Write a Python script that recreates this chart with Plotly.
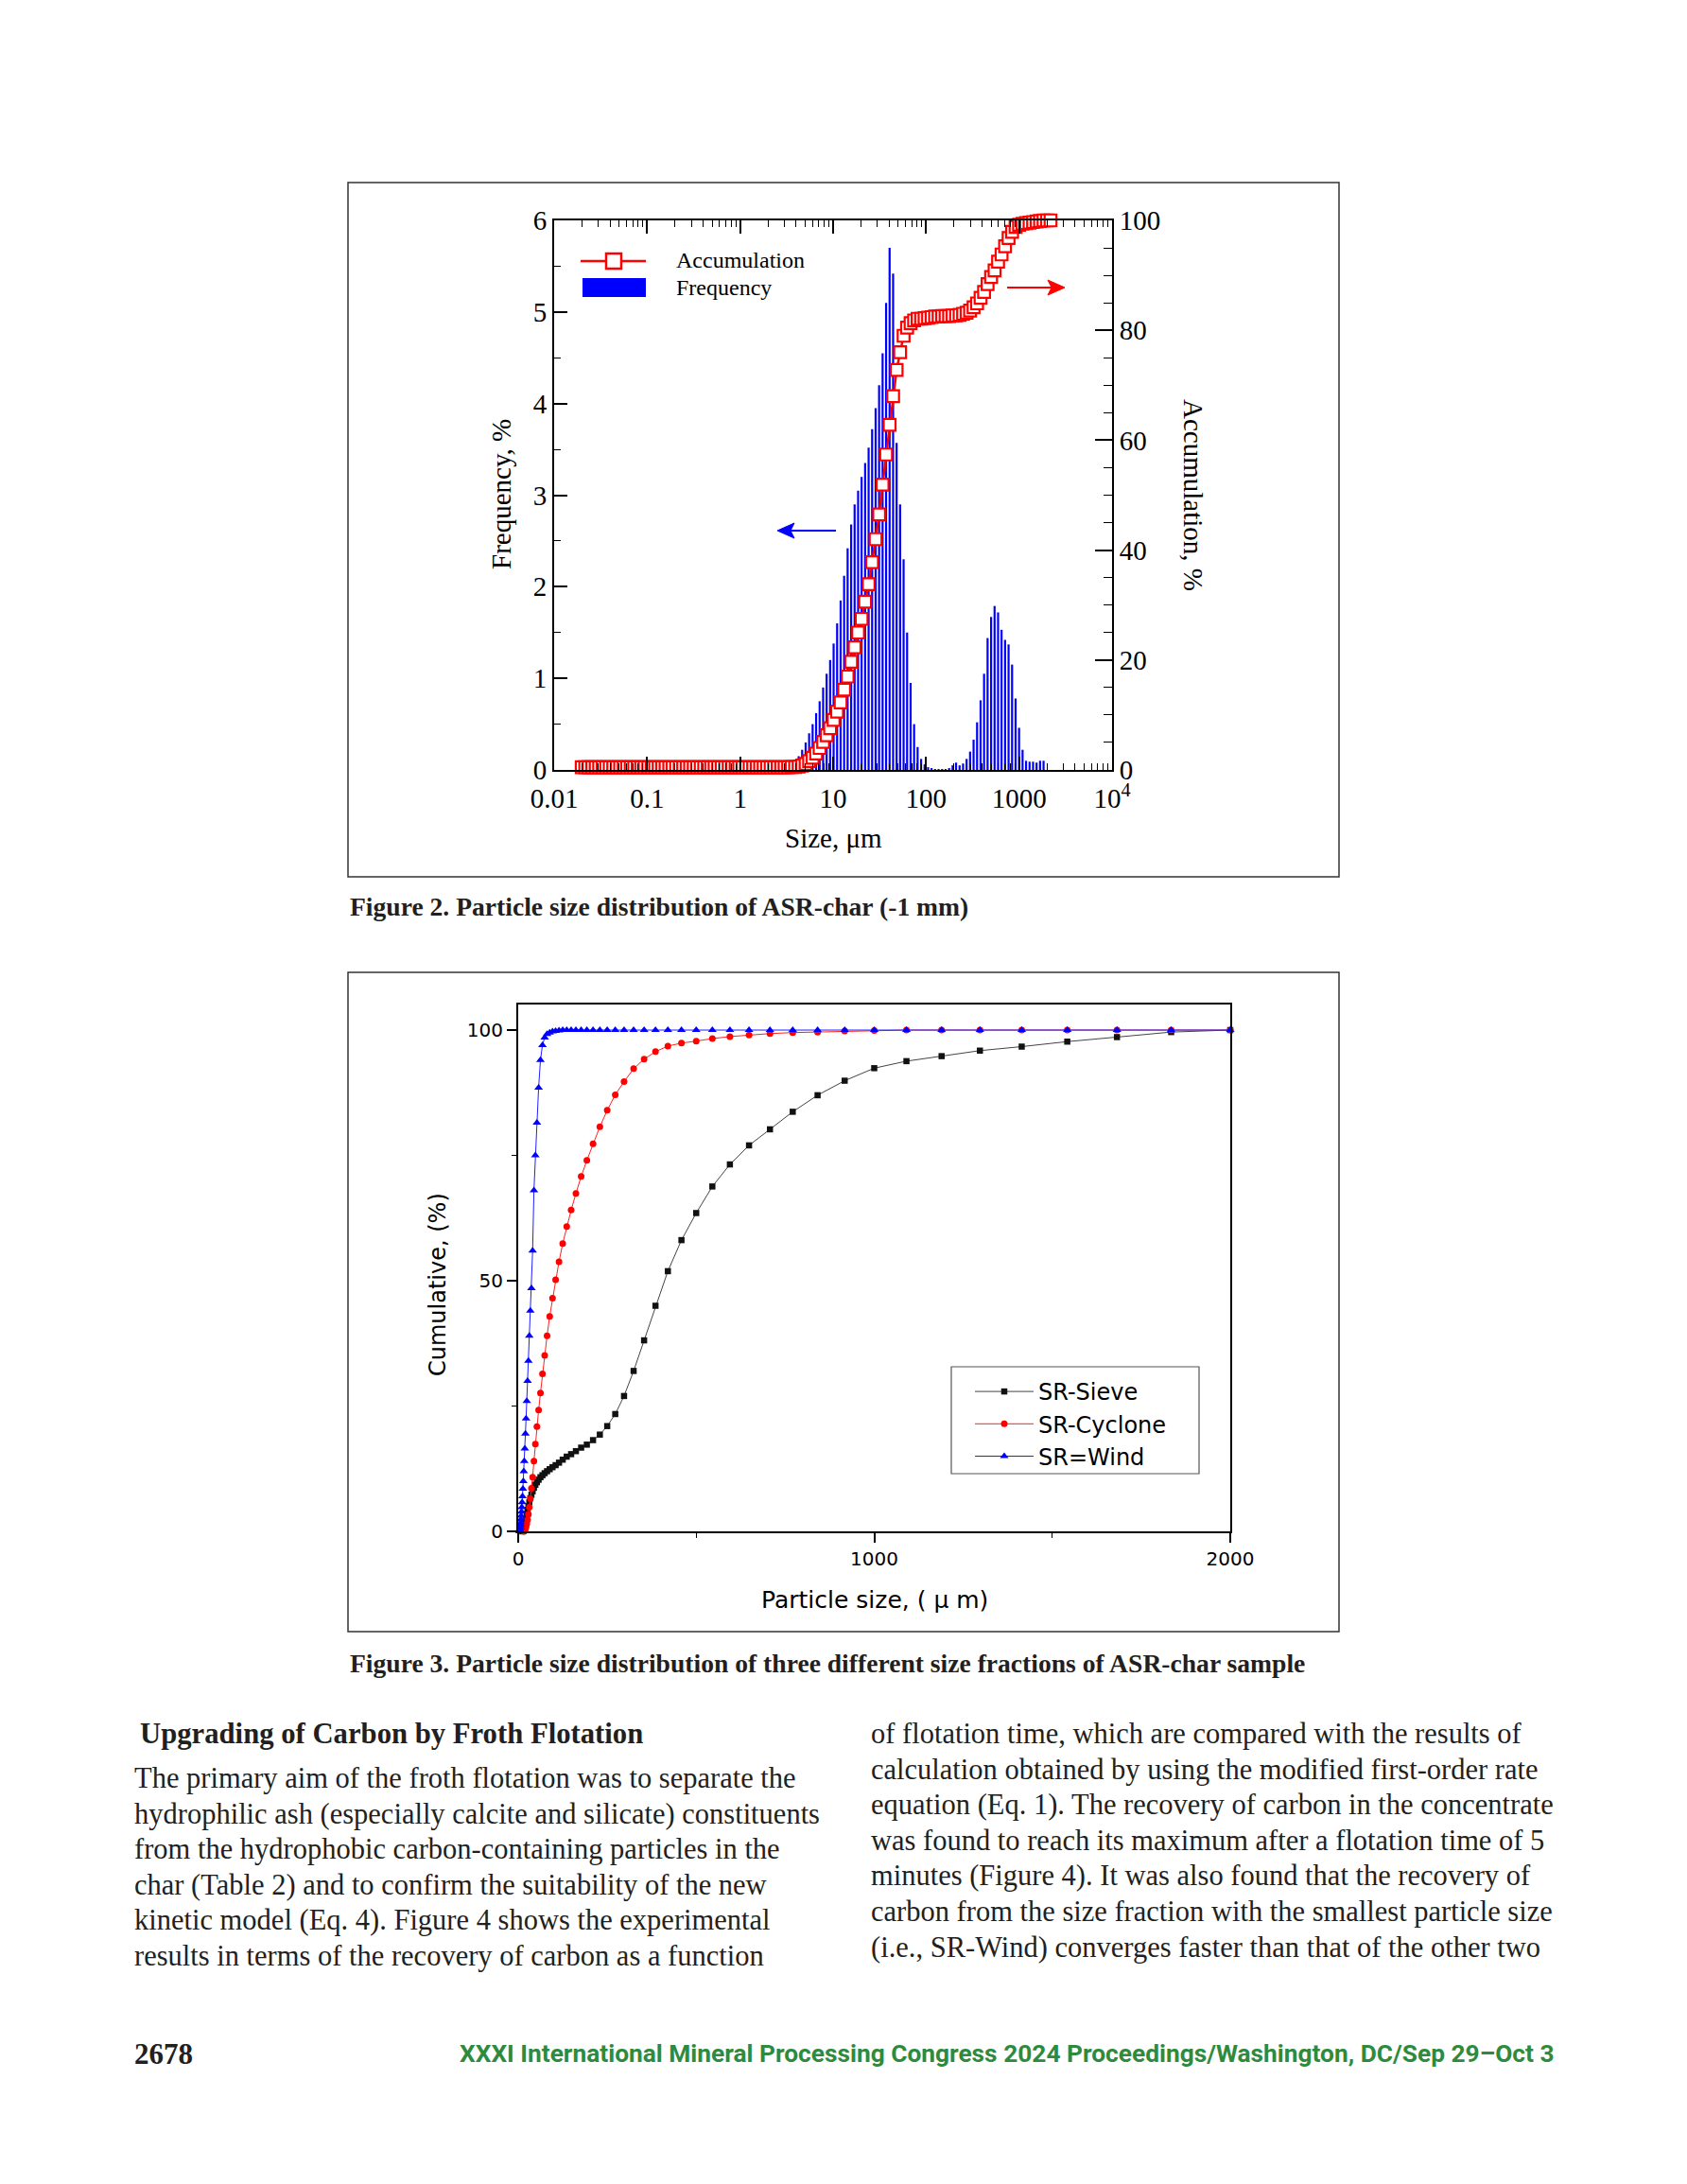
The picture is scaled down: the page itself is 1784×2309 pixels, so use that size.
import plotly.graph_objects as go

W, H = 1784, 2309

# ---------------- Figure 2 data (laser diffraction channels, um) ----------------
sizes_um = [
    0.0198, 0.0216, 0.0235, 0.0257, 0.0280, 0.0305,
    0.0333, 0.0363, 0.0396, 0.0432, 0.0471, 0.0513, 0.0560, 0.0610,
    0.0666, 0.0726, 0.0791, 0.0863, 0.0941, 0.103, 0.112, 0.122,
    0.133, 0.145, 0.158, 0.173, 0.188, 0.205, 0.224, 0.244,
    0.266, 0.290, 0.317, 0.345, 0.377, 0.411, 0.448, 0.488,
    0.532, 0.581, 0.633, 0.691, 0.753, 0.821, 0.896, 0.977,
    1.065, 1.161, 1.266, 1.381, 1.506, 1.642, 1.791, 1.953,
    2.130, 2.323, 2.533, 2.762, 3.012, 3.285, 3.582, 3.906,
    4.260, 4.645, 5.066, 5.524, 6.024, 6.570, 7.164, 7.813,
    8.520, 9.291, 10.13, 11.05, 12.05, 13.14, 14.33, 15.63,
    17.04, 18.58, 20.26, 22.10, 24.10, 26.28, 28.66, 31.25,
    34.08, 37.16, 40.53, 44.19, 48.19, 52.56, 57.31, 62.50,
    68.16, 74.33, 81.05, 88.39, 96.39, 105.1, 114.6, 125.0,
    136.3, 148.7, 162.1, 176.8, 192.8, 210.2, 229.3, 250.0,
    272.6, 297.3, 324.2, 353.6, 385.6, 420.4, 458.5, 500.0,
    545.3, 594.6, 648.4, 707.1, 771.1, 840.9, 917.0, 1000.0,
    1090.5, 1189.2, 1296.8, 1414.2, 1542.2, 1681.8, 1834.0, 2000.0,
    2181.0,
]

frequency_pct = [
    0, 0, 0, 0, 0, 0,
    0, 0, 0, 0, 0, 0, 0, 0,
    0, 0, 0, 0, 0, 0, 0, 0,
    0, 0, 0, 0, 0, 0, 0, 0,
    0, 0, 0, 0, 0, 0, 0, 0,
    0, 0, 0, 0, 0, 0, 0, 0,
    0, 0, 0, 0, 0, 0, 0, 0,
    0, 0.01, 0.02, 0.03, 0.04, 0.06, 0.08, 0.11,
    0.15, 0.22, 0.30, 0.40, 0.50, 0.62, 0.75, 0.90,
    1.05, 1.20, 1.38, 1.60, 1.85, 2.12, 2.42, 2.68,
    2.90, 3.05, 3.20, 3.35, 3.52, 3.72, 3.95, 4.20,
    4.55, 5.10, 5.70, 5.42, 3.57, 2.90, 2.30, 1.50,
    0.95, 0.50, 0.25, 0.12, 0.06, 0.03, 0.02, 0.01,
    0.01, 0.01, 0.01, 0.02, 0.05, 0.08, 0.05, 0.07,
    0.12, 0.20, 0.33, 0.52, 0.76, 1.05, 1.44, 1.67,
    1.79, 1.72, 1.53, 1.42, 1.37, 1.15, 0.78, 0.46,
    0.22, 0.10, 0.09, 0.09, 0.08, 0.10, 0.10, 0,
    0,
]

accumulation_pct = [
    0.5, 0.5, 0.5, 0.5, 0.5, 0.5,
    0.5, 0.5, 0.5, 0.5, 0.5, 0.5, 0.5, 0.5,
    0.5, 0.5, 0.5, 0.5, 0.5, 0.5, 0.5, 0.5,
    0.5, 0.5, 0.5, 0.5, 0.5, 0.5, 0.5, 0.5,
    0.5, 0.5, 0.5, 0.5, 0.5, 0.5, 0.5, 0.5,
    0.5, 0.5, 0.5, 0.5, 0.5, 0.5, 0.5, 0.5,
    0.5, 0.5, 0.5, 0.5, 0.5, 0.5, 0.5, 0.5,
    0.5, 0.5, 0.5, 0.5, 0.5, 0.5, 0.55, 0.55,
    0.6, 0.8, 1.1, 1.6, 2.2, 3.0, 4.0, 5.1,
    6.3, 7.6, 9.1, 10.6, 12.3, 14.6, 17.0, 19.7,
    22.3, 25.0, 27.5, 30.6, 33.8, 37.8, 42.0, 46.5,
    51.9, 57.4, 62.8, 68.0, 72.8, 76.0, 79.0, 80.5,
    81.3, 81.8, 82.1, 82.1, 82.2, 82.3, 82.4, 82.5,
    82.5, 82.6, 82.6, 82.6, 82.7, 82.7, 82.8, 83.0,
    83.2, 83.6, 84.2, 84.9, 85.9, 87.0, 88.4, 89.7,
    90.9, 92.5, 93.8, 95.3, 96.8, 97.9, 98.8, 99.2,
    99.4, 99.5, 99.6, 99.7, 99.8, 99.9, 100.0, 100.0,
    100.0,
]

# ---------------- Figure 3 data ----------------
sieve_size = [
    12.05, 13.14, 14.33, 15.63, 17.04, 18.58, 20.26, 22.10, 24.10, 26.28, 28.66, 31.25,
    34.08, 37.16, 40.53, 44.19, 48.19, 52.56, 57.31, 62.50, 68.16, 74.33, 81.05, 88.39,
    96.39, 105.1, 114.6, 125.0, 136.3, 148.7, 162.1, 176.8, 192.8, 210.2, 229.3, 250.0,
    272.6, 297.3, 324.2, 353.6, 385.6, 420.4, 458.5, 500.0, 545.3, 594.6, 648.4, 707.1,
    771.1, 840.9, 917.0, 1000.0, 1090.5, 1189.2, 1296.8, 1414.2, 1542.2, 1681.8, 1834.0, 2000.0,
]
sieve_cum = [
    0.0, 0.05, 0.1, 0.3, 0.6, 1.1, 1.8, 2.6, 3.5, 4.3, 5.0, 5.8,
    6.6, 7.3, 8.0, 8.7, 9.3, 9.8, 10.3, 10.8, 11.2, 11.6, 12.0, 12.4,
    12.8, 13.2, 13.7, 14.3, 14.9, 15.4, 16.0, 16.7, 17.3, 18.2, 19.3, 21.0,
    23.4, 27.0, 32.0, 38.1, 45.0, 51.9, 58.1, 63.5, 68.8, 73.2, 77.0, 80.2,
    83.7, 87.0, 89.9, 92.4, 93.8, 94.8, 95.9, 96.7, 97.7, 98.6, 99.6, 100.0,
]

cyclone_size = [
    15.63, 17.04, 18.58, 20.26, 22.10, 24.10, 26.28, 28.66, 31.25,
    34.08, 37.16, 40.53, 44.19, 48.19, 52.56, 57.31, 62.50, 68.16, 74.33, 81.05, 88.39,
    96.39, 105.1, 114.6, 125.0, 136.3, 148.7, 162.1, 176.8, 192.8, 210.2, 229.3, 250.0,
    272.6, 297.3, 324.2, 353.6, 385.6, 420.4, 458.5, 500.0, 545.3, 594.6, 648.4, 707.1,
    771.1, 840.9, 917.0, 1000.0, 1090.5, 1189.2, 1296.8, 1414.2, 1542.2, 1681.8, 1834.0, 2000.0,
]
cyclone_cum = [
    0.0, 0.1, 0.2, 0.5, 0.9, 1.5, 2.3, 3.4, 4.8,
    6.5, 8.6, 10.8, 14.0, 17.4, 20.9, 24.2, 27.6, 31.4, 35.1, 39.0, 42.9,
    46.5, 50.2, 53.8, 57.4, 60.8, 64.1, 67.4, 70.8, 74.0, 77.3, 80.7, 84.0,
    87.1, 89.7, 92.3, 94.2, 95.7, 96.8, 97.4, 97.8, 98.3, 98.7, 99.0, 99.3,
    99.5, 99.6, 99.8, 99.9, 100.0, 100.0, 100.0, 100.0, 100.0, 100.0, 100.0, 100.0,
]

wind_size = [
    4.260, 4.645, 5.066, 5.524, 6.024, 6.570, 7.164, 7.813,
    8.520, 9.291, 10.13, 11.05, 12.05, 13.14, 14.33, 15.63, 17.04, 18.58, 20.26, 22.10,
    24.10, 26.28, 28.66, 31.25, 34.08, 37.16, 40.53, 44.19, 48.19, 52.56, 57.31, 62.50,
    68.16, 74.33, 81.05, 88.39, 96.39, 105.1, 114.6, 125.0, 136.3, 148.7, 162.1, 176.8,
    192.8, 210.2, 229.3, 250.0, 272.6, 297.3, 324.2, 353.6, 385.6, 420.4, 458.5, 500.0,
    545.3, 594.6, 648.4, 707.1, 771.1, 840.9, 917.0, 1000.0, 1090.5, 1189.2, 1296.8, 1414.2,
    1542.2, 1681.8, 1834.0, 2000.0,
]
wind_cum = [
    0.0, 0.1, 0.3, 0.6, 0.9, 1.3, 1.8, 2.4,
    3.1, 3.9, 4.8, 5.8, 7.0, 8.5, 10.0, 12.0, 14.0, 16.5, 19.5, 22.5,
    26.0, 30.0, 34.0, 39.0, 44.0, 48.5, 56.0, 68.0, 75.0, 81.5, 88.5, 94.0,
    97.0, 98.5, 99.2, 99.5, 99.7, 99.8, 99.9, 100.0, 100.0, 100.0, 100.0, 100.0,
    100.0, 100.0, 100.0, 100.0, 100.0, 100.0, 100.0, 100.0, 100.0, 100.0, 100.0, 100.0,
    100.0, 100.0, 100.0, 100.0, 100.0, 100.0, 100.0, 100.0, 100.0, 100.0, 100.0, 100.0,
    100.0, 100.0, 100.0, 100.0,
]

series_names = ["SR-Sieve", "SR-Cyclone", "SR=Wind"]

# ---------------- page text ----------------
caption_fig2 = "Figure 2. Particle size distribution of ASR-char (-1 mm)"
caption_fig3 = "Figure 3. Particle size distribution of three different size fractions of ASR-char sample"
heading = "Upgrading of Carbon by Froth Flotation"
left_lines = [
    "The primary aim of the froth flotation was to separate the",
    "hydrophilic ash (especially calcite and silicate) constituents",
    "from the hydrophobic carbon-containing particles in the",
    "char (Table 2) and to confirm the suitability of the new",
    "kinetic model (Eq. 4). Figure 4 shows the experimental",
    "results in terms of the recovery of carbon as a function",
]
right_lines = [
    "of flotation time, which are compared with the results of",
    "calculation obtained by using the modified first-order rate",
    "equation (Eq. 1). The recovery of carbon in the concentrate",
    "was found to reach its maximum after a flotation time of 5",
    "minutes (Figure 4). It was also found that the recovery of",
    "carbon from the size fraction with the smallest particle size",
    "(i.e., SR-Wind) converges faster than that of the other two",
]
page_number = "2678"
footer = "XXXI International Mineral Processing Congress 2024 Proceedings/Washington, DC/Sep 29\u2013Oct 3"


def px(x):
    return x / W


def py(y):
    return 1 - y / H


SERIF = "Liberation Serif, Times New Roman, serif"
SANS = "DejaVu Sans, sans-serif"
INK = "#231f20"

fig = go.Figure()

# Frequency bars as vertical error-bar strokes (log x axis)
fig.add_trace(go.Scatter(
    x=sizes_um, y=frequency_pct, mode="markers",
    marker=dict(size=1, opacity=0),
    error_y=dict(type="data", symmetric=False,
                 array=[0] * len(frequency_pct), arrayminus=frequency_pct,
                 width=0, thickness=2.2, color="#0000ff"),
    xaxis="x", yaxis="y", showlegend=False, hoverinfo="skip",
))
# Accumulation
fig.add_trace(go.Scatter(
    x=sizes_um, y=accumulation_pct, mode="lines+markers",
    line=dict(color="#ff0000", width=2.5),
    marker=dict(symbol="square", size=12.5, color="white",
                line=dict(color="#ff0000", width=2.2)),
    xaxis="x", yaxis="y2", showlegend=False, cliponaxis=False,
))

# Figure 3 series
styles = [
    dict(color="#111111", line="#444444", symbol="square", size=6.5),
    dict(color="#ff0000", line="#ff2020", symbol="circle", size=7),
    dict(color="#0000ff", line="#2020ff", symbol="triangle-up", size=8),
]
for name, xs, ys, st in zip(series_names,
                            [sieve_size, cyclone_size, wind_size],
                            [sieve_cum, cyclone_cum, wind_cum], styles):
    fig.add_trace(go.Scatter(
        x=xs, y=ys, name=name, mode="lines+markers",
        line=dict(color=st["line"], width=1),
        marker=dict(symbol=st["symbol"], size=st["size"], color=st["color"]),
        xaxis="x2", yaxis="y3", cliponaxis=False,
    ))

log_minor = [m * 10 ** e for e in range(-2, 4) for m in range(2, 10)]

fig.update_layout(
    width=W, height=H, autosize=False,
    margin=dict(l=0, r=0, t=0, b=0, pad=0, autoexpand=False),
    paper_bgcolor="white", plot_bgcolor="white",
    xaxis=dict(
        type="log", domain=[px(586), px(1176)], range=[-2, 4], anchor="y",
        showline=True, linecolor="black", linewidth=2, mirror="ticks",
        ticks="inside", ticklen=14, tickwidth=1.5, tickcolor="black",
        tickvals=[0.01, 0.1, 1, 10, 100, 1000, 10000],
        ticktext=["0.01", "0.1", "1", "10", "100", "1000", "10<sup>4</sup>"],
        tickfont=dict(family=SERIF, size=29, color="black"),
        ticklabelstandoff=3,
        minor=dict(ticks="inside", ticklen=7, tickwidth=1.2, tickcolor="black",
                   tickvals=log_minor, showgrid=False),
        showgrid=False, zeroline=False, automargin=False,
    ),
    yaxis=dict(
        domain=[py(814), py(233)], range=[0, 6], anchor="x",
        showline=True, linecolor="black", linewidth=2, mirror=False,
        ticks="inside", ticklen=14, tickwidth=1.5, tickcolor="black",
        tickvals=[0, 1, 2, 3, 4, 5, 6],
        tickfont=dict(family=SERIF, size=29, color="black"),
        minor=dict(ticks="inside", ticklen=7, tickwidth=1.2, tickcolor="black",
                   tickvals=[0.5, 1.5, 2.5, 3.5, 4.5, 5.5], showgrid=False),
        showgrid=False, zeroline=False, automargin=False,
    ),
    yaxis2=dict(
        overlaying="y", side="right", range=[0, 100], anchor="x",
        showline=True, linecolor="black", linewidth=2,
        ticks="inside", ticklen=18, tickwidth=1.5, tickcolor="black",
        tickvals=[0, 20, 40, 60, 80, 100],
        tickfont=dict(family=SERIF, size=29, color="black"),
        minor=dict(ticks="inside", ticklen=9, tickwidth=1.2, tickcolor="black",
                   dtick=5, showgrid=False),
        showgrid=False, zeroline=False, automargin=False,
    ),
    xaxis2=dict(
        domain=[px(548), px(1301)], range=[0, 2000], anchor="y3",
        showline=True, linecolor="black", linewidth=2, mirror=True,
        ticks="outside", ticklen=10, tickwidth=1.5, tickcolor="black",
        tickvals=[0, 1000, 2000],
        tickfont=dict(family=SANS, size=20, color="black"),
        minor=dict(ticks="outside", ticklen=5, tickwidth=1.2, tickcolor="black",
                   tickvals=[500, 1500], showgrid=False),
        showgrid=False, zeroline=False, automargin=False,
    ),
    yaxis3=dict(
        domain=[py(1619), py(1062)], range=[0, 105.1], anchor="x2",
        showline=True, linecolor="black", linewidth=2, mirror=True,
        ticks="outside", ticklen=10, tickwidth=1.5, tickcolor="black",
        tickvals=[0, 50, 100],
        tickfont=dict(family=SANS, size=20, color="black"),
        minor=dict(ticks="outside", ticklen=5, tickwidth=1.2, tickcolor="black",
                   tickvals=[25, 75], showgrid=False),
        showgrid=False, zeroline=False, automargin=False,
    ),
    showlegend=True,
    legend=dict(
        x=px(1026), y=py(1449), xanchor="left", yanchor="top",
        borderwidth=0, bgcolor="rgba(0,0,0,0)",
        font=dict(family=SANS, size=24, color="black"),
        itemwidth=62, traceorder="normal",
    ),
)

shapes = [
    # figure frames
    dict(type="rect", xref="paper", yref="paper", x0=px(368), x1=px(1416), y0=py(927), y1=py(193),
         line=dict(color="#333333", width=1.5)),
    dict(type="rect", xref="paper", yref="paper", x0=px(368), x1=px(1416), y0=py(1725), y1=py(1028),
         line=dict(color="#333333", width=1.5)),
    # figure 3 legend frame
    dict(type="rect", xref="paper", yref="paper", x0=px(1006), x1=px(1268), y0=py(1558), y1=py(1445),
         fillcolor="white", line=dict(color="#555555", width=1.2), layer="above"),
    # figure 2 legend keys
    dict(type="line", xref="paper", yref="paper", x0=px(614), x1=px(683), y0=py(276), y1=py(276),
         line=dict(color="#ff0000", width=2.5)),
    dict(type="rect", xref="paper", yref="paper", x0=px(641), x1=px(657), y0=py(284), y1=py(268),
         fillcolor="white", line=dict(color="#ff0000", width=2.5)),
    dict(type="rect", xref="paper", yref="paper", x0=px(616), x1=px(683), y0=py(314), y1=py(294),
         fillcolor="#0000ff", line=dict(width=0)),
    # direction arrows (which axis each series belongs to)
    dict(type="line", xref="paper", yref="paper", x0=px(834), x1=px(884), y0=py(561), y1=py(561),
         line=dict(color="#0000ff", width=2)),
    dict(type="path", xref="paper", yref="paper",
         path=f"M {px(822)} {py(561)} L {px(840)} {py(553)} L {px(836)} {py(561)} L {px(840)} {py(569)} Z",
         fillcolor="#0000ff", line=dict(color="#0000ff", width=1)),
    dict(type="line", xref="paper", yref="paper", x0=px(1065), x1=px(1113), y0=py(304), y1=py(304),
         line=dict(color="#ff0000", width=2)),
    dict(type="path", xref="paper", yref="paper",
         path=f"M {px(1126)} {py(304)} L {px(1108)} {py(296)} L {px(1112)} {py(304)} L {px(1108)} {py(312)} Z",
         fillcolor="#ff0000", line=dict(color="#ff0000", width=1)),
]

ann = []


def text(x, y, s, size, family=SERIF, color="black", xanchor="left", angle=0, bold=False):
    ann.append(dict(xref="paper", yref="paper", x=px(x), y=py(y), text=s, showarrow=False,
                    xanchor=xanchor, yanchor="middle", textangle=angle,
                    font=dict(family=family, size=size, color=color,
                              weight="bold" if bold else "normal")))


# figure 2 texts
text(713, 275, "Accumulation", 24)
text(713, 304, "Frequency", 24)
text(530, 523, "Frequency, %", 29, xanchor="center", angle=-90)
text(1262, 523, "Accumulation, %", 29, xanchor="center", angle=90)
text(881, 886, "Size, \u03bcm", 29, xanchor="center")

# figure 3 titles
text(463, 1358, "Cumulative, (%)", 24, family=SANS, xanchor="center", angle=-90)
text(925, 1691, "Particle size, ( \u03bc m)", 25, family=SANS, xanchor="center")

# captions
text(368, 959, caption_fig2, 27.6, bold=True, color=INK)
text(368, 1758, caption_fig3, 27.6, bold=True, color=INK)

# body
text(146, 1833, heading, 30.7, bold=True, color=INK)
for i, s in enumerate(left_lines):
    text(140, 1880 + i * 37.6, s, 30.5, color=INK)
for i, s in enumerate(right_lines):
    text(919, 1833 + i * 37.6, s, 30.5, color=INK)

# footer
text(140, 2171, page_number, 31, bold=True, color=INK)
text(1646, 2171, footer, 26.3, family="Roboto, sans-serif", bold=True, color="#2e8b3e", xanchor="right")

fig.update_layout(shapes=shapes, annotations=ann)

fig.write_html(
    "out.html",
    config={"displayModeBar": False, "responsive": False},
    post_script="document.body.style.margin='0';document.body.style.overflow='hidden';",
)
